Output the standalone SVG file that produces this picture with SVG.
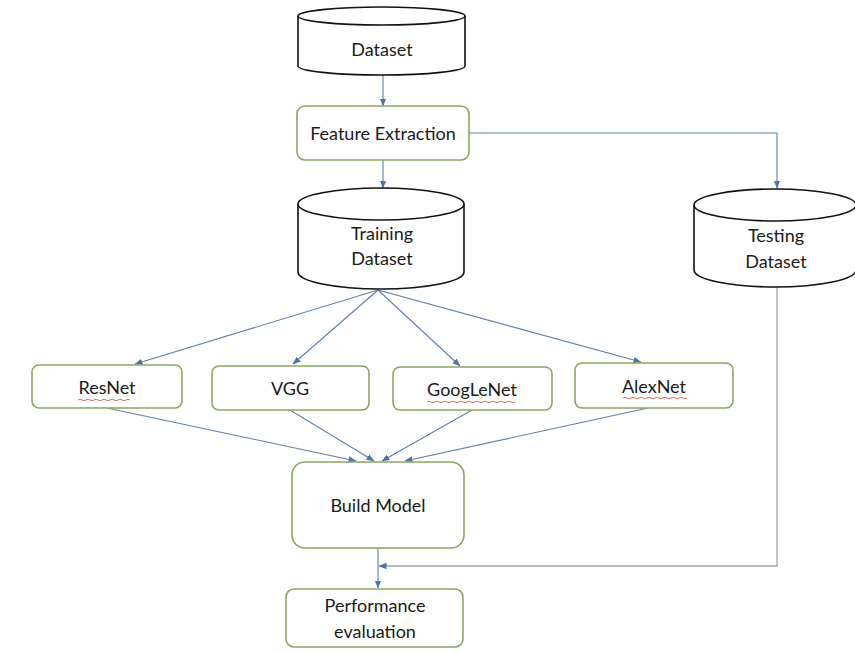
<svg xmlns="http://www.w3.org/2000/svg" width="855" height="653" viewBox="0 0 855 653">
  <defs>
    <marker id="arrow" viewBox="0 0 8 8" refX="7.5" refY="4" markerWidth="8" markerHeight="8" markerUnits="userSpaceOnUse" orient="auto">
      <path d="M0,0.8 L8,4 L0,7.2 Z" fill="#4f73a3"/>
    </marker>
  </defs>
  <style>
    .bg { fill: #ffffff; }
    .box { fill: #ffffff; stroke: #8aa660; stroke-width: 1.6; }
    .cyl { fill: #ffffff; stroke: #111111; stroke-width: 1.6; }
    .lbl { font-family: Lato, "Liberation Sans", sans-serif; font-size: 18px; fill: #1a1a1a; text-anchor: middle; dominant-baseline: central; }
    .edge { fill: none; stroke: #5f7fa8; stroke-width: 1.1; marker-end: url(#arrow); }
    .edge-gray { fill: none; stroke: #9aa6b4; stroke-width: 1.3; marker-end: url(#arrow); }
    .squig { fill: none; stroke: #d04848; stroke-width: 0.8; }
  </style>
  <rect class="bg" x="0" y="0" width="855" height="653"/>

  <!-- connectors -->
  <g id="connectors">
    <line class="edge" x1="383" y1="75" x2="383" y2="106"/>
    <line class="edge" x1="383" y1="160" x2="383" y2="188"/>
    <polyline class="edge" points="469,133 777,133 777,188"/>
    <line class="edge" x1="378" y1="290" x2="135" y2="364"/>
    <line class="edge" x1="378" y1="290" x2="293" y2="364"/>
    <line class="edge" x1="378" y1="290" x2="460" y2="366"/>
    <line class="edge" x1="378" y1="290" x2="641" y2="362"/>
    <line class="edge" x1="107" y1="408" x2="356" y2="461"/>
    <line class="edge" x1="290" y1="410" x2="374" y2="461"/>
    <line class="edge" x1="472" y1="410" x2="382" y2="461"/>
    <line class="edge" x1="648" y1="408" x2="405" y2="461"/>
    <line class="edge" x1="378" y1="548" x2="378" y2="588"/>
    <polyline class="edge-gray" points="777,287 777,566 379,566"/>
  </g>

  <!-- data stores -->
  <g id="dataset">
    <path class="cyl" d="M298,16 L298,66 A83.5,9 0 0 0 465,66 L465,16"/>
    <ellipse class="cyl" cx="381.5" cy="16" rx="83.5" ry="9"/>
    <text class="lbl" x="382" y="49">Dataset</text>
  </g>

  <g id="training-dataset">
    <path class="cyl" d="M298,204 L298,272 A83,17 0 0 0 464,272 L464,204"/>
    <ellipse class="cyl" cx="381" cy="204" rx="83" ry="16"/>
    <text class="lbl" x="382" y="233">Training</text>
    <text class="lbl" x="382" y="258">Dataset</text>
  </g>

  <g id="testing-dataset">
    <path class="cyl" d="M694,205 L694,270 A81,17 0 0 0 856,270 L856,205"/>
    <ellipse class="cyl" cx="775" cy="205" rx="81" ry="16"/>
    <text class="lbl" x="776" y="235">Testing</text>
    <text class="lbl" x="776" y="261">Dataset</text>
  </g>

  <!-- process steps -->
  <g id="feature-extraction">
    <rect class="box" x="297" y="106" width="172" height="54" rx="8"/>
    <text class="lbl" x="383" y="133">Feature Extraction</text>
  </g>

  <g id="resnet">
    <rect class="box" x="32" y="365" width="150" height="43" rx="7"/>
    <text class="lbl" x="107" y="387">ResNet</text>
    <path class="squig" d="M78,400 q2,-1.5 4,0 t4,0 t4,0 t4,0 t4,0 t4,0 t4,0 t4,0 t4,0 t4,0 t4,0 t4,0 t4,0"/>
  </g>

  <g id="vgg">
    <rect class="box" x="212" y="366" width="157" height="44" rx="7"/>
    <text class="lbl" x="290" y="388">VGG</text>
  </g>

  <g id="googlenet">
    <rect class="box" x="393" y="367" width="159" height="43" rx="7"/>
    <text class="lbl" x="472" y="389">GoogLeNet</text>
    <path class="squig" d="M427,402 q2,-1.5 4,0 t4,0 t4,0 t4,0 t4,0 t4,0 t4,0 t4,0 t4,0 t4,0 t4,0 t4,0 t4,0 t4,0 t4,0 t4,0 t4,0 t4,0 t4,0 t4,0 t4,0 t4,0"/>
  </g>

  <g id="alexnet">
    <rect class="box" x="575" y="363" width="158" height="45" rx="7"/>
    <text class="lbl" x="654" y="386">AlexNet</text>
    <path class="squig" d="M623,398 q2,-1.5 4,0 t4,0 t4,0 t4,0 t4,0 t4,0 t4,0 t4,0 t4,0 t4,0 t4,0 t4,0 t4,0 t4,0 t4,0 t4,0"/>
  </g>

  <g id="build-model">
    <rect class="box" x="292" y="462" width="172" height="86" rx="13"/>
    <text class="lbl" x="378" y="505">Build Model</text>
  </g>

  <g id="performance-evaluation">
    <rect class="box" x="286" y="589" width="177" height="58" rx="8"/>
    <text class="lbl" x="375" y="605">Performance</text>
    <text class="lbl" x="375" y="631">evaluation</text>
  </g>
</svg>
